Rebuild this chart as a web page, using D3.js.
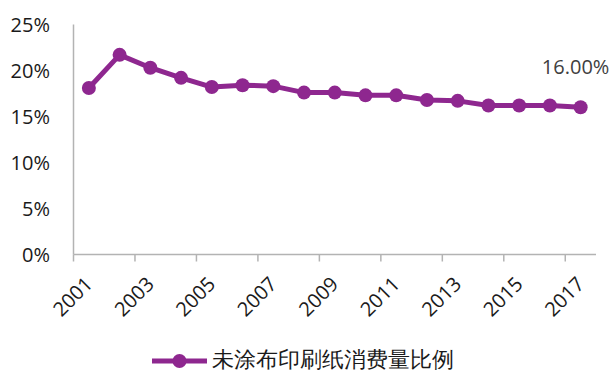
<!DOCTYPE html>
<html><head><meta charset="utf-8">
<script src="https://cdn.jsdelivr.net/npm/d3@7"></script>
<style>body{margin:0;background:#fff}svg{display:block}text{font-family:"Open Sans",sans-serif}</style>
</head><body><svg id="c" width="614" height="372"></svg>
<script>
const years = ["2001","2002","2003","2004","2005","2006","2007","2008","2009","2010","2011","2012","2013","2014","2015","2016","2017"];
const ratio = [18.1,21.7,20.3,19.2,18.2,18.4,18.3,17.6,17.6,17.3,17.3,16.8,16.7,16.2,16.2,16.2,16.0];
const yTicks = [0,5,10,15,20,25];
const xLabels = ["2001","2003","2005","2007","2009","2011","2013","2015","2017"];
const seriesName = "未涂布印刷纸消费量比例";
const lastLabel = "16.00%";

const svg = d3.select("#c");
const purple = "#8E278F", axisCol = "#B3B3B3", txt = "#1a1a1a";
const x = d3.scaleBand().domain(years).range([73.5, 596]).padding(0);
const y = d3.scaleLinear().domain([0,25]).range([254.5, 24.5]);

// axes lines
svg.append("line").attr("x1",73.5).attr("x2",73.5).attr("y1",y(25)).attr("y2",y(0)).attr("stroke",axisCol).attr("stroke-width",1.5);
svg.append("line").attr("x1",73.5).attr("x2",596).attr("y1",y(0)).attr("y2",y(0)).attr("stroke",axisCol).attr("stroke-width",1.5);
// x ticks at band starts every 2
xLabels.forEach(l=>{
  svg.append("line").attr("x1",x(l)).attr("x2",x(l)).attr("y1",y(0)).attr("y2",y(0)+7).attr("stroke",axisCol).attr("stroke-width",1.5);
});
// y labels
svg.selectAll(".yl").data(yTicks).enter().append("text")
  .attr("x",50).attr("y",d=>y(d)).attr("dy","0.35em").attr("text-anchor","end")
  .attr("font-size",20).attr("fill",txt).text(d=>d+"%");
// x labels
svg.selectAll(".xl").data(xLabels).enter().append("text")
  .attr("transform",d=>`translate(${x(d)+x.bandwidth()/2-5},${y(0)+21}) rotate(-45)`)
  .attr("text-anchor","end").attr("dy","0.7em")
  .attr("font-size",20).attr("fill",txt).text(d=>d);
// line
const line = d3.line().x((d,i)=>x(years[i])+x.bandwidth()/2).y(d=>y(d));
svg.append("path").datum(ratio).attr("d",line).attr("fill","none").attr("stroke",purple).attr("stroke-width",5).attr("stroke-linejoin","round");
svg.selectAll(".pt").data(ratio).enter().append("circle")
  .attr("cx",(d,i)=>x(years[i])+x.bandwidth()/2).attr("cy",d=>y(d)).attr("r",7).attr("fill",purple);
// data label
svg.append("text").attr("x",x("2017")+x.bandwidth()/2-5).attr("y",y(ratio[16])-40).attr("dy","0.35em")
  .attr("text-anchor","middle").attr("font-size",20).attr("fill","#404040").text(lastLabel);
// legend
const ly = 361;
svg.append("line").attr("x1",152).attr("x2",207).attr("y1",ly).attr("y2",ly).attr("stroke",purple).attr("stroke-width",5);
svg.append("circle").attr("cx",179.5).attr("cy",ly).attr("r",7).attr("fill",purple);
svg.append("text").attr("x",212).attr("y",366.5).attr("font-size",22)
  .attr("font-family","'Noto Sans CJK SC',sans-serif").attr("fill",txt).text(seriesName);
</script></body></html>
